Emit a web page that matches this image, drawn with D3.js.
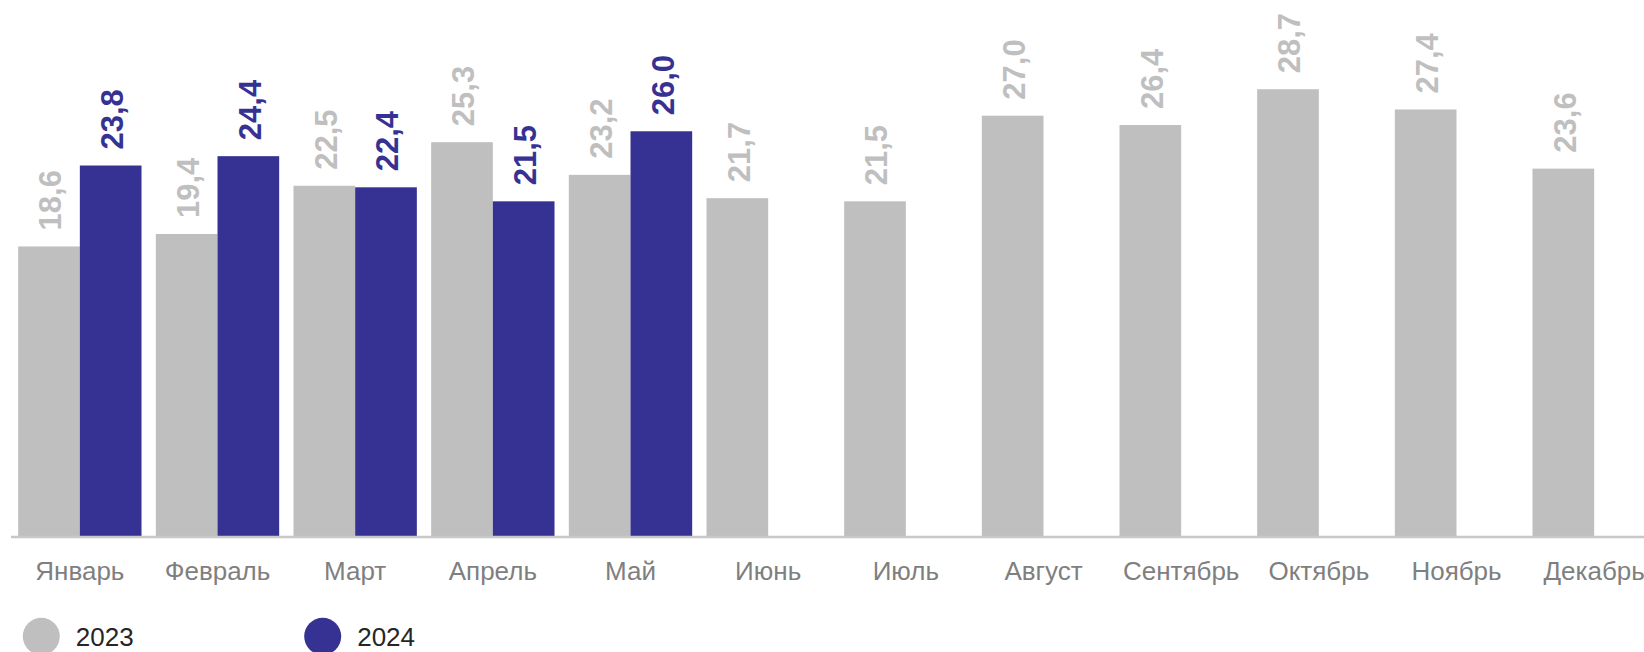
<!DOCTYPE html>
<html>
<head>
<meta charset="utf-8">
<script src="https://cdn.jsdelivr.net/npm/d3@7"></script>
<style>
  html, body { margin: 0; padding: 0; background: #fff; }
  svg { display: block; font-family: "Liberation Sans", Arial, sans-serif; }
</style>
</head>
<body>
<svg id="chart" width="1644" height="652"></svg>
<script>
const months = ["Январь","Февраль","Март","Апрель","Май","Июнь","Июль","Август","Сентябрь","Октябрь","Ноябрь","Декабрь"];
const seriesNames = ["2023","2024"];
const values2023 = [18.6, 19.4, 22.5, 25.3, 23.2, 21.7, 21.5, 27.0, 26.4, 28.7, 27.4, 23.6];
const values2024 = [23.8, 24.4, 22.4, 21.5, 26.0, null, null, null, null, null, null, null];
const colors = ["#bfbfbf", "#363294"];

const svg = d3.select("#chart");

const x0 = d3.scaleBand().domain(months).range([11, 1663]).paddingInner(0.104).paddingOuter(0.052);
const x1 = d3.scaleBand().domain(seriesNames).range([0, x0.bandwidth()]);
const y = d3.scaleLinear().domain([0, 30]).range([536, 69]);

const data = [];
months.forEach((m, i) => {
  [values2023, values2024].forEach((arr, s) => {
    if (arr[i] != null) data.push({ month: m, series: seriesNames[s], s, value: arr[i] });
  });
});

const g = svg.append("g");

g.selectAll("rect.bar").data(data).join("rect")
  .attr("class", "bar")
  .attr("x", d => x0(d.month) + x1(d.series))
  .attr("y", d => y(d.value))
  .attr("width", x1.bandwidth())
  .attr("height", d => y(0) - y(d.value))
  .attr("fill", d => colors[d.s]);

const fmt = v => d3.format(".1f")(v).replace(".", ",");

g.selectAll("text.lbl").data(data).join("text")
  .attr("class", "lbl")
  .attr("transform", d => `translate(${x0(d.month) + x1(d.series) + x1.bandwidth() / 2},${y(d.value) - 16}) rotate(-90)`)
  .attr("dy", "0.4em")
  .attr("text-anchor", "start")
  .attr("font-size", 31)
  .attr("font-weight", "bold")
  .attr("fill", d => colors[d.s])
  .text(d => fmt(d.value));

// baseline axis
const xAxis = d3.axisBottom(x0).tickSize(0).tickPadding(0);
const axG = g.append("g").attr("transform", `translate(0,${y(0)})`).call(xAxis);
axG.select(".domain").attr("stroke", "#c8c8c8").attr("stroke-width", 2.5).attr("d", `M11,1H1663`);
axG.selectAll(".tick text")
  .attr("y", 44)
  .attr("dy", 0)
  .attr("font-size", 26)
  .attr("font-family", "'Liberation Sans', Arial, sans-serif")
  .attr("fill", "#7f7f7f");

// legend
const legend = svg.append("g").selectAll("g").data(seriesNames).join("g")
  .attr("transform", (d, i) => `translate(${41.3 + i * 281.4},636.3)`);
legend.append("circle").attr("r", 18.5).attr("fill", (d, i) => colors[i]);
legend.append("text").attr("x", 34.5).attr("y", 9.7)
  .attr("font-size", 26).attr("fill", "#262626").text(d => d);
</script>
</body>
</html>
